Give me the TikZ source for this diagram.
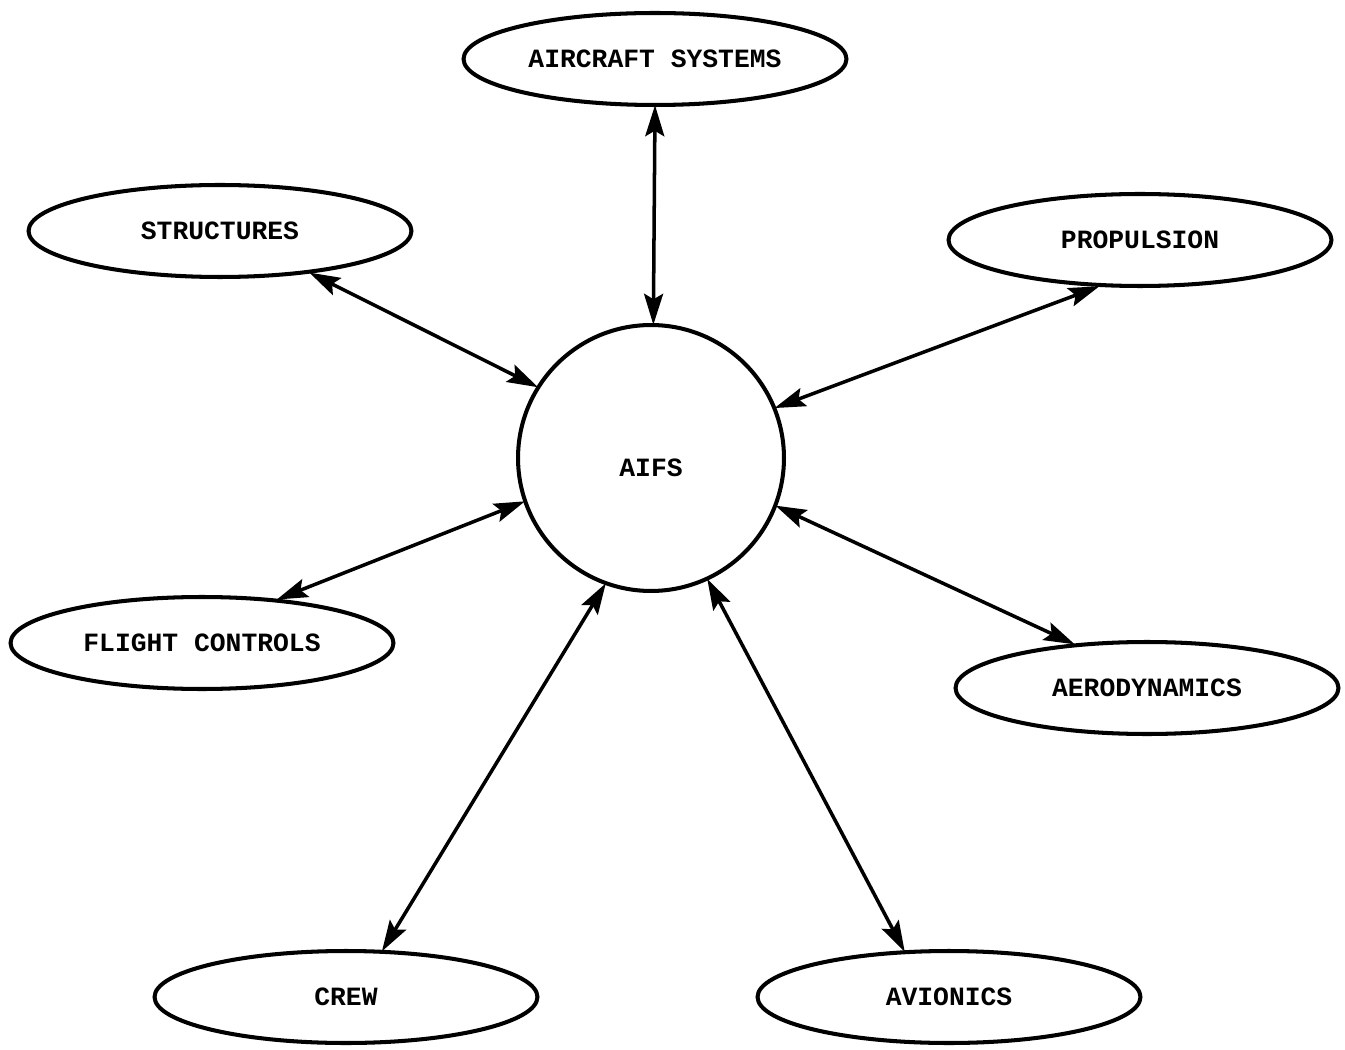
\documentclass[tikz,border=0pt]{standalone}
\usepackage{fontspec}
\setmonofont{Liberation Mono}
\usetikzlibrary{shapes.geometric, arrows.meta}
\tikzset{
  unit/.style={ellipse, draw=black, line width=2.3pt, minimum width=7.66cm, minimum height=1.84cm, inner sep=0, font=\ttfamily\bfseries\fontsize{15}{18}\selectfont},
  core/.style={circle, draw=black, line width=2.3pt, minimum size=5.32cm, inner sep=0, text height=0.74cm, text depth=0cm, font=\ttfamily\bfseries\fontsize{15}{18}\selectfont},
  link/.style={{Stealth[length=6.2mm, width=3.8mm, inset=1.1mm]}-{Stealth[length=6.2mm, width=3.8mm, inset=1.1mm]}, line width=2pt, shorten <=-1pt, shorten >=-1pt}
}

\begin{document}
\begin{tikzpicture}[x=0.02cm, y=-0.02cm]
      \useasboundingbox (0, 0) rectangle (1345, 1050);

      \node[core](aifs) at (651, 458){AIFS};

      \node[unit](sys) at (655, 59){AIRCRAFT SYSTEMS};
      \node[unit](struct) at (220, 231){STRUCTURES};
      \node[unit](prop) at (1140, 240){PROPULSION};
      \node[unit](fc) at (202, 643){FLIGHT CONTROLS};
      \node[unit](aero) at (1147, 688){AERODYNAMICS};
      \node[unit](crew) at (346, 997){CREW};
      \node[unit](avion) at (949, 997){AVIONICS};

      \draw[link](sys.-90.5)--(aifs.89);
      \draw[link](struct.-25)--(aifs.148);
      \draw[link](prop.228)--(aifs.22);
      \draw[link](fc.30)--(aifs.199);
      \draw[link](aero.149)--(aifs.-21);
      \draw[link](crew.52)--(aifs.250);
      \draw[link](avion.134)--(aifs.295);
    \end{tikzpicture}
\end{document}
